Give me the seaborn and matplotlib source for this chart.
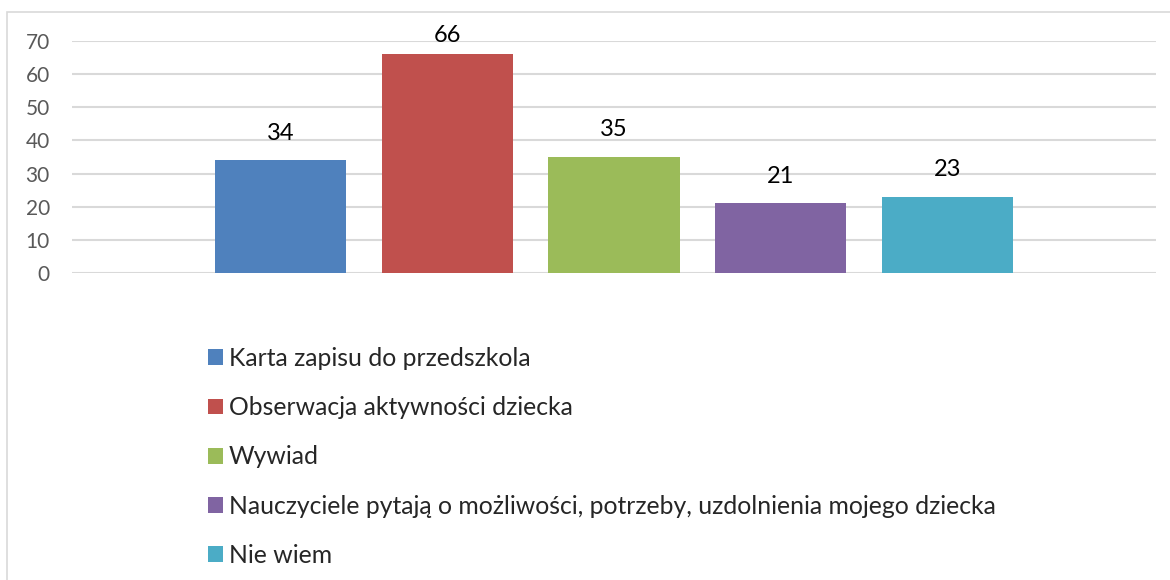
import seaborn as sns
import matplotlib.pyplot as plt
from matplotlib.patches import Rectangle

# dane z wykresu
categories = [
    "Karta zapisu do przedszkola",
    "Obserwacja aktywności dziecka",
    "Wywiad",
    "Nauczyciele pytają o możliwości, potrzeby, uzdolnienia mojego dziecka",
    "Nie wiem",
]
values = [34, 66, 35, 21, 23]
colors = ["#4F81BD", "#C0504D", "#9BBB59", "#8064A2", "#4BACC6"]
yticks = [0, 10, 20, 30, 40, 50, 60, 70]

sns.set_style("white")
plt.rcParams["font.family"] = ["Lato", "DejaVu Sans"]

W, H = 1170, 580
fig = plt.figure(figsize=(W / 100, H / 100), dpi=100)
ax = fig.add_axes([72 / W, 1 - 273 / H, (1156 - 72) / W, (273 - 41) / H])

sns.barplot(x=categories, y=values, hue=categories, palette=colors,
            width=0.787, saturation=1, linewidth=0, legend=True, ax=ax)

# etykiety nad słupkami (najwyższa jest dociśnięta do góry, jak w Excelu)
for cont, v in zip(ax.containers, values):
    pad = 6 if v == max(values) else 12
    ax.bar_label(cont, padding=pad, fontsize=17, color="black")

ax.set_ylim(0, 70)
ax.set_yticks(yticks)
ax.set_xticks([])
ax.set_xlim(-1.253, 5.253)
ax.yaxis.grid(True, color="#D9D9D9", lw=1.5)
ax.set_axisbelow(True)
sns.despine(ax=ax, left=True, bottom=True)
ax.tick_params(axis="y", length=0, pad=16, labelsize=15, labelcolor="#595959")
ax.set_xlabel("")
ax.set_ylabel("")

# legenda pod wykresem
handles, labels = ax.get_legend_handles_labels()
ax.legend(handles, labels, loc="upper left", bbox_to_anchor=(208 / W, 1 - 347 / H),
          bbox_transform=fig.transFigure, frameon=False, fontsize=17.8,
          handlelength=0.61, handleheight=0.61, handletextpad=0.24,
          labelspacing=1.06, borderpad=0, borderaxespad=0)

# ramka wykresu
fig.add_artist(Rectangle((7 / W, -0.1), 1.2, 1.1 - 12 / H, transform=fig.transFigure,
                         fill=False, edgecolor="#D9D9D9", lw=1.2))

fig.savefig("out.png", dpi=100)
